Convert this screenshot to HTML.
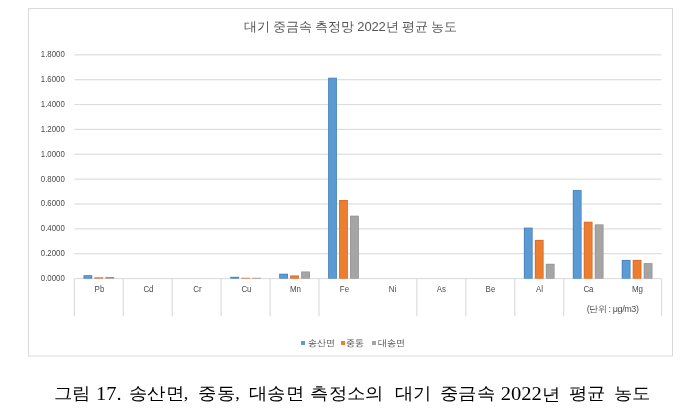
<!DOCTYPE html>
<html lang="ko"><head><meta charset="utf-8">
<style>
.wrap{position:absolute;left:0;top:0;width:699px;height:410px;filter:blur(0.35px);}
html,body{margin:0;padding:0;background:#fff;}
body{width:699px;height:410px;position:relative;overflow:hidden;font-family:"Liberation Sans",sans-serif;}
.ch{position:absolute;left:0;top:0;}
.title{position:absolute;left:28px;width:645px;top:16.5px;text-align:center;font-size:13px;color:#555;line-height:20px;letter-spacing:-0.15px;}
.yl{position:absolute;left:20px;width:44.8px;text-align:right;font-size:9px;line-height:12px;color:#4a4a4a;transform:scaleX(0.87);transform-origin:100% 50%;}
.xl{position:absolute;top:283px;margin-left:0.5px;width:48.935px;text-align:center;font-size:9px;line-height:12px;color:#4a4a4a;transform:scaleX(0.88);}
.unit{position:absolute;left:563.69px;width:97.87px;top:303px;text-align:center;font-size:9px;line-height:12px;color:#4f4f4f;letter-spacing:-0.4px;}
.sq{position:absolute;top:341px;width:4px;height:4px;}
.lt{position:absolute;top:336px;font-size:9px;line-height:14px;color:#4f4f4f;white-space:nowrap;}
.dg{font-size:19px;}
.cw{position:absolute;top:383px;white-space:nowrap;transform:scaleX(1.08);transform-origin:50% 50%;font-family:"Liberation Serif",serif;font-size:17px;line-height:22px;color:#000;}
</style></head><body><div class="wrap">
<svg class="ch" width="699" height="410" viewBox="0 0 699 410" shape-rendering="geometricPrecision"><rect x="28.5" y="8.5" width="644" height="347.5" fill="none" stroke="#d9d9d9" stroke-width="1"/><rect x="74.34" y="253.10" width="587.22" height="1.2" fill="#dddddd"/><rect x="74.34" y="228.25" width="587.22" height="1.2" fill="#dddddd"/><rect x="74.34" y="203.39" width="587.22" height="1.2" fill="#dddddd"/><rect x="74.34" y="178.53" width="587.22" height="1.2" fill="#dddddd"/><rect x="74.34" y="153.68" width="587.22" height="1.2" fill="#dddddd"/><rect x="74.34" y="128.82" width="587.22" height="1.2" fill="#dddddd"/><rect x="74.34" y="103.96" width="587.22" height="1.2" fill="#dddddd"/><rect x="74.34" y="79.11" width="587.22" height="1.2" fill="#dddddd"/><rect x="74.34" y="54.25" width="587.22" height="1.2" fill="#dddddd"/><rect x="74.34" y="277.96" width="587.22" height="1.2" fill="#dddddd"/><rect x="73.74" y="278.56" width="1.2" height="37.74" fill="#dddddd"/><rect x="122.68" y="278.56" width="1.2" height="37.74" fill="#dddddd"/><rect x="171.61" y="278.56" width="1.2" height="37.74" fill="#dddddd"/><rect x="220.54" y="278.56" width="1.2" height="37.74" fill="#dddddd"/><rect x="269.48" y="278.56" width="1.2" height="37.74" fill="#dddddd"/><rect x="318.41" y="278.56" width="1.2" height="37.74" fill="#dddddd"/><rect x="416.28" y="278.56" width="1.2" height="37.74" fill="#dddddd"/><rect x="465.22" y="278.56" width="1.2" height="37.74" fill="#dddddd"/><rect x="514.15" y="278.56" width="1.2" height="37.74" fill="#dddddd"/><rect x="563.09" y="278.56" width="1.2" height="37.74" fill="#dddddd"/><rect x="660.96" y="278.56" width="1.2" height="37.74" fill="#dddddd"/><rect x="83.43" y="275.20" width="8.79" height="3.36" fill="#4a7fb3"/><rect x="84.23" y="276.00" width="7.19" height="2.56" fill="#5b9bd5"/><rect x="94.41" y="277.32" width="8.79" height="1.24" fill="#cf6d2c"/><rect x="105.40" y="276.94" width="8.79" height="1.62" fill="#939393"/><rect x="106.20" y="277.74" width="7.19" height="0.82" fill="#a5a5a5"/><rect x="230.24" y="276.82" width="8.79" height="1.74" fill="#4a7fb3"/><rect x="231.04" y="277.62" width="7.19" height="0.94" fill="#5b9bd5"/><rect x="241.22" y="277.81" width="8.79" height="0.75" fill="#cf6d2c"/><rect x="252.20" y="277.81" width="8.79" height="0.75" fill="#939393"/><rect x="279.17" y="273.71" width="8.79" height="4.85" fill="#4a7fb3"/><rect x="279.97" y="274.51" width="7.19" height="4.05" fill="#5b9bd5"/><rect x="290.15" y="275.45" width="8.79" height="3.11" fill="#cf6d2c"/><rect x="290.95" y="276.25" width="7.19" height="2.31" fill="#ed7d31"/><rect x="301.14" y="271.48" width="8.79" height="7.08" fill="#939393"/><rect x="301.94" y="272.28" width="7.19" height="6.28" fill="#a5a5a5"/><rect x="328.11" y="77.72" width="8.79" height="200.84" fill="#4a7fb3"/><rect x="328.91" y="78.52" width="7.19" height="200.04" fill="#5b9bd5"/><rect x="339.09" y="200.01" width="8.79" height="78.55" fill="#cf6d2c"/><rect x="339.89" y="200.81" width="7.19" height="77.75" fill="#ed7d31"/><rect x="350.07" y="215.67" width="8.79" height="62.89" fill="#939393"/><rect x="350.87" y="216.47" width="7.19" height="62.09" fill="#a5a5a5"/><rect x="523.85" y="227.60" width="8.79" height="50.96" fill="#4a7fb3"/><rect x="524.65" y="228.40" width="7.19" height="50.16" fill="#5b9bd5"/><rect x="534.83" y="239.91" width="8.79" height="38.65" fill="#cf6d2c"/><rect x="535.63" y="240.71" width="7.19" height="37.85" fill="#ed7d31"/><rect x="545.81" y="263.77" width="8.79" height="14.79" fill="#939393"/><rect x="546.61" y="264.57" width="7.19" height="13.99" fill="#a5a5a5"/><rect x="572.78" y="190.07" width="8.79" height="88.49" fill="#4a7fb3"/><rect x="573.58" y="190.87" width="7.19" height="87.69" fill="#5b9bd5"/><rect x="583.76" y="221.70" width="8.79" height="56.86" fill="#cf6d2c"/><rect x="584.56" y="222.50" width="7.19" height="56.06" fill="#ed7d31"/><rect x="594.75" y="224.37" width="8.79" height="54.19" fill="#939393"/><rect x="595.55" y="225.17" width="7.19" height="53.39" fill="#a5a5a5"/><rect x="621.72" y="259.92" width="8.79" height="18.64" fill="#4a7fb3"/><rect x="622.52" y="260.72" width="7.19" height="17.84" fill="#5b9bd5"/><rect x="632.70" y="259.92" width="8.79" height="18.64" fill="#cf6d2c"/><rect x="633.50" y="260.72" width="7.19" height="17.84" fill="#ed7d31"/><rect x="643.68" y="263.15" width="8.79" height="15.41" fill="#939393"/><rect x="644.48" y="263.95" width="7.19" height="14.61" fill="#a5a5a5"/></svg>
<div class="title">대기 중금속 측정망 2022년 평균 농도</div>
<div class="yl" style="top:272.06px">0.0000</div>
<div class="yl" style="top:247.20px">0.2000</div>
<div class="yl" style="top:222.35px">0.4000</div>
<div class="yl" style="top:197.49px">0.6000</div>
<div class="yl" style="top:172.63px">0.8000</div>
<div class="yl" style="top:147.78px">1.0000</div>
<div class="yl" style="top:122.92px">1.2000</div>
<div class="yl" style="top:98.06px">1.4000</div>
<div class="yl" style="top:73.21px">1.6000</div>
<div class="yl" style="top:48.35px">1.8000</div>
<div class="xl" style="left:74.34px">Pb</div>
<div class="xl" style="left:123.28px">Cd</div>
<div class="xl" style="left:172.21px">Cr</div>
<div class="xl" style="left:221.14px">Cu</div>
<div class="xl" style="left:270.08px">Mn</div>
<div class="xl" style="left:319.01px">Fe</div>
<div class="xl" style="left:367.95px">Ni</div>
<div class="xl" style="left:416.88px">As</div>
<div class="xl" style="left:465.82px">Be</div>
<div class="xl" style="left:514.75px">Al</div>
<div class="xl" style="left:563.69px">Ca</div>
<div class="xl" style="left:612.62px">Mg</div>
<div class="unit">(단위 : μg/m3)</div>
<div class="sq" style="left:301px;background:#5b9bd5"></div><div class="lt" style="left:307.5px">송산면</div>
<div class="sq" style="left:341px;background:#ed7d31"></div><div class="lt" style="left:346px">중동</div>
<div class="sq" style="left:372px;background:#a5a5a5"></div><div class="lt" style="left:377.5px">대송면</div>
<span class="cw" style="left:55.25px">그림</span>
<span class="cw" style="left:97.40px"><span class="dg">17.</span></span>
<span class="cw" style="left:130.55px">송산면,</span>
<span class="cw" style="left:199.85px">중동,</span>
<span class="cw" style="left:251.40px">대송면</span>
<span class="cw" style="left:313.00px">측정소의</span>
<span class="cw" style="left:396.00px">대기</span>
<span class="cw" style="left:441.90px">중금속</span>
<span class="cw" style="left:503.40px"><span class="dg">2022</span>년</span>
<span class="cw" style="left:569.50px">평균</span>
<span class="cw" style="left:615.45px">농도</span>
</div></body></html>
